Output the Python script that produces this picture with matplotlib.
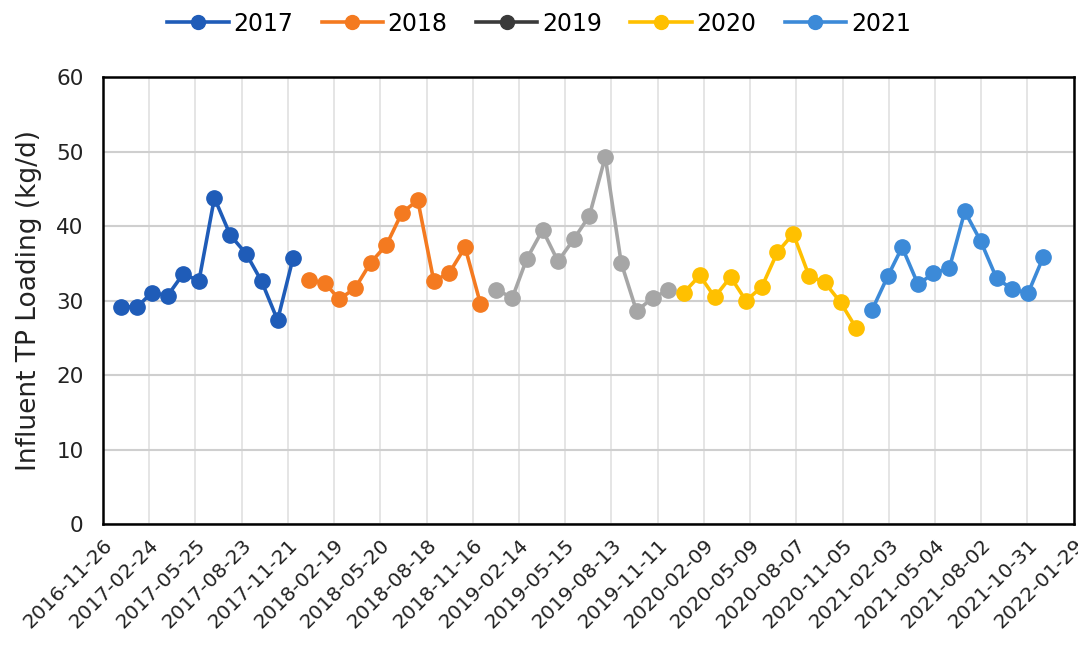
import numpy as np
import pandas as pd
import matplotlib as mpl
mpl.use("Agg")
import matplotlib.pyplot as plt
import matplotlib.dates as mdates
from matplotlib.lines import Line2D

# Monthly influent TP loading, one series per year (kg/d)
years = ['2017', '2018', '2019', '2020', '2021']
tp2017 = [29.2, 29.2, 31.1, 30.7, 33.6, 32.7, 43.8, 38.8, 36.3, 32.6, 27.4, 35.7]
tp2018 = [32.8, 32.4, 30.2, 31.7, 35.1, 37.5, 41.8, 43.5, 32.7, 33.7, 37.2, 29.6]
tp2019 = [31.5, 30.4, 35.6, 39.5, 35.3, 38.3, 41.4, 49.3, 35.1, 28.6, 30.4, 31.4]
tp2020 = [31.1, 33.4, 30.5, 33.2, 30.0, 31.9, 36.5, 39.0, 33.3, 32.5, 29.8, 26.4]
tp2021 = [28.7, 33.3, 37.2, 32.2, 33.7, 34.4, 42.0, 38.0, 33.0, 31.6, 31.0, 35.9]
tpByYear = {'2017': tp2017, '2018': tp2018, '2019': tp2019,
            '2020': tp2020, '2021': tp2021}

# x axis tick dates, every 90 days
tickStart = '2016-11-26'
tickEnd = '2022-01-29'

yearToCol = {'2017': '#1f5cb8', '2018': '#f47a20', '2019': '#a6a6a6',
             '2020': '#ffc000', '2021': '#3c8ad8'}
# the legend swatch for 2019 is drawn darker than its line
legendCol = dict(yearToCol)
legendCol['2019'] = '#3a3a3a'

fig = plt.figure(figsize=(10.78, 6.49), dpi=100)
ax = fig.add_axes([0.0955, 0.192, 0.9005, 0.689])

for yr in years:
    days = pd.date_range(f'{yr}-01-01', periods=12, freq='MS')
    ax.plot(mdates.date2num(days), tpByYear[yr],
            color=yearToCol[yr], linewidth=2.6,
            marker='o', ms=11, zorder=3)

ticks = pd.date_range(tickStart, tickEnd, freq='90D')
tickNums = mdates.date2num(ticks)
ax.set_xticks(tickNums)
ax.set_xticklabels([t.strftime('%Y-%m-%d') for t in ticks],
                   rotation=45, ha='right', rotation_mode='anchor',
                   fontsize=14.5, color='#222222')
ax.set_xlim(tickNums[0], tickNums[-1])

ax.set_ylim(0, 60)
ax.set_yticks(range(0, 61, 10))
ax.tick_params(axis='y', labelsize=15.5, colors='#222222', pad=14)
ax.tick_params(axis='x', pad=8)
ax.tick_params(length=0)

ax.grid(axis='x', color='#e3e3e3', linewidth=1.3)
ax.grid(axis='y', color='#cfcfcf', linewidth=1.5)
ax.set_axisbelow(True)
for sp in ax.spines.values():
    sp.set_linewidth(1.8)
    sp.set_color('black')

ax.set_ylabel('Influent TP Loading (kg/d)', fontsize=19, labelpad=10,
              color='#222222')

handles = [Line2D([], [], color=legendCol[yr], linewidth=2.6,
                  marker='o', ms=10) for yr in years]
fig.legend(handles, years, loc='upper center', ncol=5,
           bbox_to_anchor=(0.5, 1.015), frameon=False, fontsize=17,
           handlelength=2.6, handletextpad=0.2, columnspacing=1.2)

fig.savefig('out.png', dpi=100)
